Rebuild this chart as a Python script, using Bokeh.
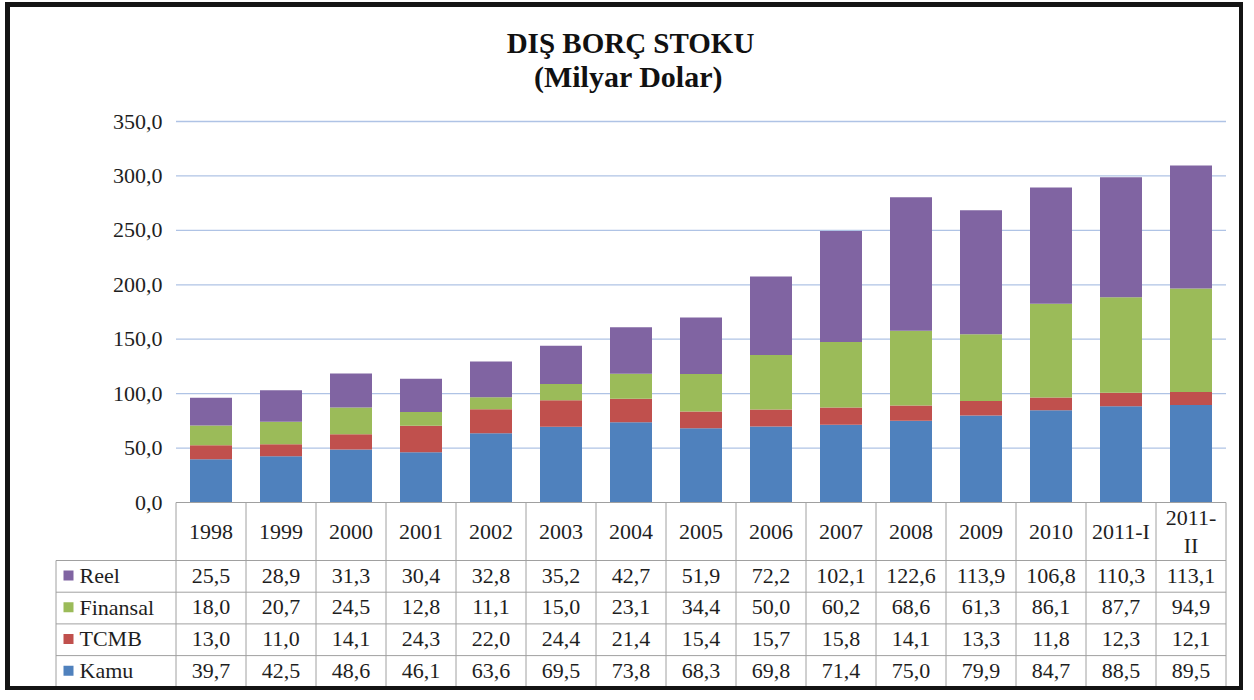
from bokeh.plotting import figure
from bokeh.models import ColumnDataSource, FixedTicker, CustomJSTickFormatter, Range1d
from bokeh.core.properties import value
from bokeh.embed import file_html
from bokeh.resources import INLINE

# ---------------- data ----------------
categories = ["1998", "1999", "2000", "2001", "2002", "2003", "2004", "2005",
              "2006", "2007", "2008", "2009", "2010", "2011-I", "2011-II"]
header_labels = ["1998", "1999", "2000", "2001", "2002", "2003", "2004", "2005",
                 "2006", "2007", "2008", "2009", "2010", "2011-I", "2011-\nII"]
series_names = ["Kamu", "TCMB", "Finansal", "Reel"]          # bottom -> top
series_colors = ["#4F81BD", "#C0504D", "#9BBB59", "#8064A2"]
kamu = [39.7, 42.5, 48.6, 46.1, 63.6, 69.5, 73.8, 68.3, 69.8, 71.4, 75.0, 79.9, 84.7, 88.5, 89.5]
tcmb = [13.0, 11.0, 14.1, 24.3, 22.0, 24.4, 21.4, 15.4, 15.7, 15.8, 14.1, 13.3, 11.8, 12.3, 12.1]
finansal = [18.0, 20.7, 24.5, 12.8, 11.1, 15.0, 23.1, 34.4, 50.0, 60.2, 68.6, 61.3, 86.1, 87.7, 94.9]
reel = [25.5, 28.9, 31.3, 30.4, 32.8, 35.2, 42.7, 51.9, 72.2, 102.1, 122.6, 113.9, 106.8, 110.3, 113.1]
y_ticks = [0, 50, 100, 150, 200, 250, 300, 350]
title_lines = ["DIŞ BORÇ STOKU", "(Milyar Dolar)"]

FONT = "Liberation Serif"
TXT = "#1e1e1e"
GRID = "#AFC3E5"
TLINE = "#A0A0A0"
FS = "22px"

# ---------------- geometry (page px of reference) ----------------
CANVAS_L, CANVAS_R, CANVAS_T, CANVAS_B = 10, 1248, 7, 695
PLOT_L, COL_W = 175.5, 70.0          # left of first category column, column width
ZERO_Y = 502.0
K = 381.0 / 350.0                    # px per unit on y
def dx(px):
    return (px - PLOT_L) / COL_W
def dy(py):
    return (ZERO_Y - py) / K

ncat = len(categories)
xc = [i + 0.5 for i in range(ncat)]
HEADER_H, ROW_H = 58.0, 31.7
n_rows = len(series_names)
row_edges = [dy(ZERO_Y + HEADER_H + i * ROW_H) for i in range(n_rows + 1)]
row_centers = [dy(ZERO_Y + HEADER_H + (i + 0.5) * ROW_H - 0.8) for i in range(n_rows)]
header_center = dy(ZERO_Y + HEADER_H / 2)
leg_left = dx(55.5)

W, H = CANVAS_R - CANVAS_L, CANVAS_B - CANVAS_T
p = figure(width=W, height=H,
           x_range=Range1d(dx(CANVAS_L), dx(CANVAS_R)),
           y_range=Range1d(dy(CANVAS_B), dy(CANVAS_T)),
           output_backend="svg", toolbar_location=None,
           min_border_left=0, min_border_right=0, min_border_top=0, min_border_bottom=0)
p.styles = {"border-style": "solid", "border-color": "#141414",
            "border-width": "5px 4px 4px 5px", "margin-left": "5px", "margin-top": "2px"}
p.outline_line_color = None
p.background_fill_color = "white"
p.border_fill_color = "white"
p.xaxis.visible = False
p.xgrid.visible = False
p.ygrid.visible = False

# y axis: labels pushed into the frame to sit left of the first column
p.yaxis.ticker = FixedTicker(ticks=y_ticks)
p.yaxis.formatter = CustomJSTickFormatter(code="return tick.toFixed(1).replace('.', ',');")
p.yaxis.axis_line_color = None
p.yaxis.major_tick_line_color = None
p.yaxis.minor_tick_line_color = None
p.yaxis.major_tick_out = 0
p.yaxis.major_tick_in = 0
p.yaxis.major_label_standoff = -(162 - CANVAS_L)
p.yaxis.major_label_text_align = "right"
p.yaxis.major_label_text_font = FONT
p.yaxis.major_label_text_font_size = FS
p.yaxis.major_label_text_color = TXT

# horizontal grid lines over the category columns only
grid_y = [t for t in y_ticks if t > 0]
p.segment(x0=[0] * len(grid_y), x1=[ncat] * len(grid_y), y0=grid_y, y1=grid_y,
          line_color=GRID, line_width=1.3)

# ---------------- bars ----------------
src = ColumnDataSource(dict(x=xc, cat=categories, Kamu=kamu, TCMB=tcmb, Finansal=finansal, Reel=reel))
p.vbar_stack(series_names, x="x", width=0.6, color=series_colors, line_color=None, source=src)

# ---------------- table ----------------
values_by_series = {"Kamu": kamu, "TCMB": tcmb, "Finansal": finansal, "Reel": reel}
color_of = dict(zip(series_names, series_colors))
table_order = ["Reel", "Finansal", "TCMB", "Kamu"]   # top -> bottom
xs, ys, texts = [], [], []
for ri, name in enumerate(table_order):
    for x, v in zip(xc, values_by_series[name]):
        xs.append(x)
        ys.append(row_centers[ri])
        texts.append(f"{v:.1f}".replace(".", ","))
p.text(x=xs, y=ys, text=texts, text_align="center", text_baseline="middle",
       text_font=value(FONT), text_font_size=FS, text_color=TXT)
p.text(x=xc, y=[header_center] * ncat, text=header_labels, text_align="center",
       text_baseline="middle", text_font=value(FONT), text_font_size=FS, text_color=TXT,
       text_line_height=1.1)

# table grid lines
vx = list(range(ncat + 1))
p.segment(x0=vx, x1=vx, y0=[0] * len(vx), y1=[row_edges[-1]] * len(vx),
          line_color=TLINE, line_width=1)
p.segment(x0=[0], x1=[ncat], y0=[0], y1=[0], line_color=TLINE, line_width=1)
p.segment(x0=[leg_left] * len(row_edges), x1=[ncat] * len(row_edges),
          y0=row_edges, y1=row_edges, line_color=TLINE, line_width=1)
p.segment(x0=[leg_left], x1=[leg_left], y0=[row_edges[0]], y1=[row_edges[-1]],
          line_color=TLINE, line_width=1)

# legend keys and names in the first table column
p.rect(x=[dx(68)] * n_rows, y=row_centers, width=10, height=10,
       width_units="screen", height_units="screen",
       fill_color=[color_of[n] for n in table_order], line_color=None)
p.text(x=[dx(79)] * n_rows, y=row_centers, text=table_order, text_align="left",
       text_baseline="middle", text_font=value(FONT), text_font_size=FS, text_color=TXT)

# title
p.text(x=[dx(630)], y=[dy(42)], text=title_lines[:1], text_align="center",
       text_baseline="middle", text_font=value(FONT), text_font_size="29px",
       text_font_style="bold", text_color="#111111")
p.text(x=[dx(628)], y=[dy(76)], text=title_lines[1:], text_align="center",
       text_baseline="middle", text_font=value(FONT), text_font_size="30px",
       text_font_style="bold", text_color="#111111")

open("out.html", "w").write(file_html(p, INLINE))
